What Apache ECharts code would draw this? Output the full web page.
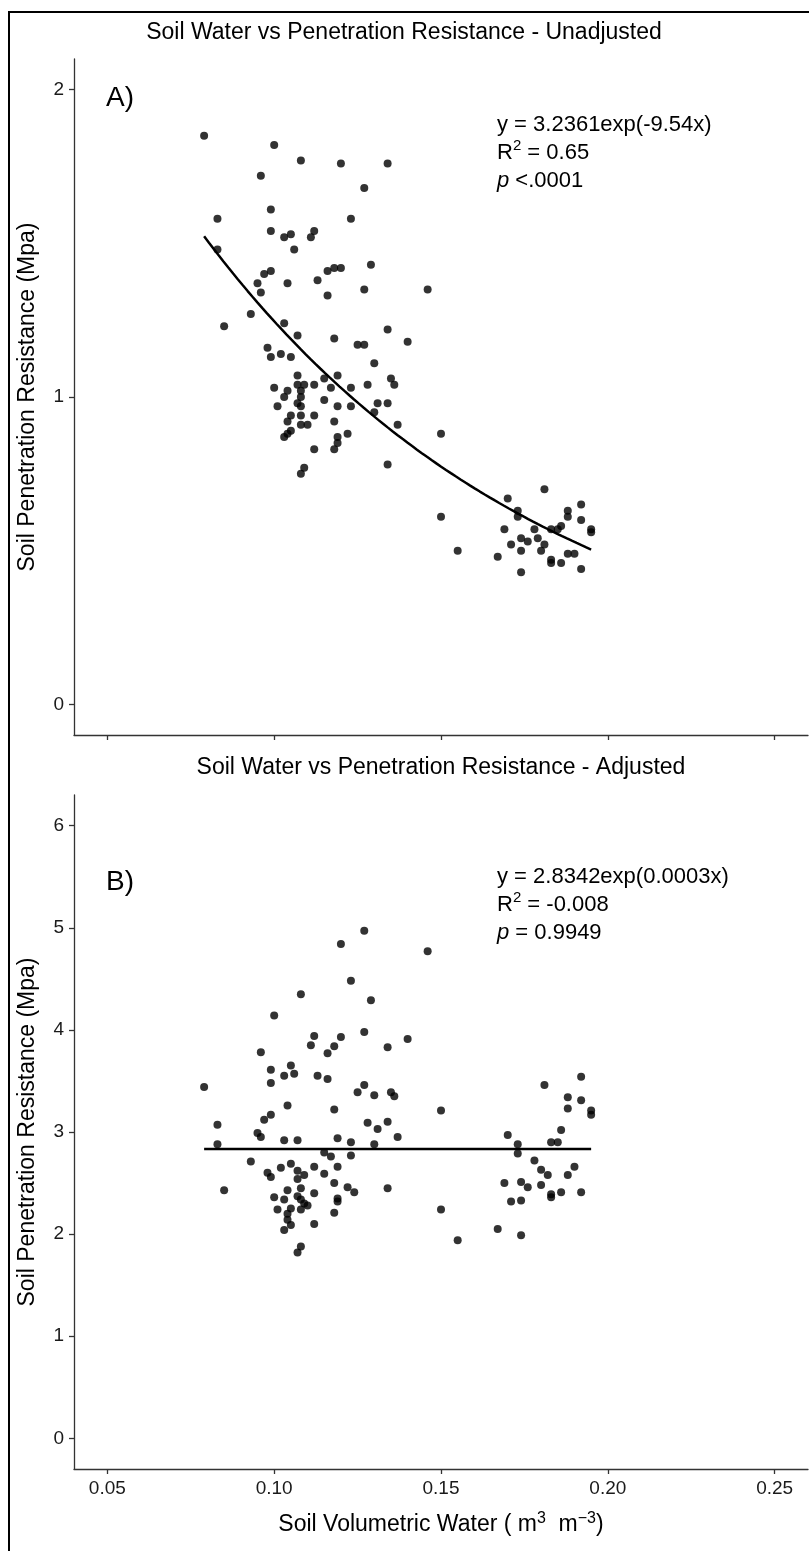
<!DOCTYPE html>
<html>
<head>
<meta charset="utf-8">
<script src="https://cdn.jsdelivr.net/npm/echarts@6.0.0/dist/echarts.min.js"></script>
<style>
  html, body { margin: 0; padding: 0; background: #fff; }
  #chart { width: 809px; height: 1551px; }
</style>
</head>
<body>
<div id="chart"></div>
<script>
// Soil volumetric water (m3 m-3) vs penetration resistance (MPa)
const unadjusted = [
  [0.079,1.85],[0.100,1.82],[0.108,1.77],[0.120,1.76],[0.134,1.76],[0.096,1.72],[0.127,1.68],
  [0.099,1.61],[0.083,1.58],[0.123,1.58],[0.099,1.54],[0.103,1.52],[0.105,1.53],[0.111,1.52],
  [0.112,1.54],[0.106,1.48],[0.083,1.48],[0.129,1.43],[0.116,1.41],[0.118,1.42],[0.120,1.42],
  [0.097,1.40],[0.099,1.41],[0.095,1.37],[0.104,1.37],[0.113,1.38],[0.096,1.34],[0.116,1.33],
  [0.127,1.35],[0.146,1.35],[0.093,1.27],[0.085,1.23],[0.103,1.24],[0.107,1.20],[0.134,1.22],
  [0.118,1.19],[0.140,1.18],[0.125,1.17],[0.127,1.17],[0.098,1.16],[0.099,1.13],[0.102,1.14],
  [0.105,1.13],[0.130,1.11],[0.107,1.07],[0.115,1.06],[0.119,1.07],[0.100,1.03],[0.107,1.04],
  [0.109,1.04],[0.112,1.04],[0.117,1.03],[0.123,1.03],[0.128,1.04],[0.135,1.06],[0.136,1.04],
  [0.104,1.02],[0.108,1.02],[0.103,1.00],[0.108,1.00],[0.101,0.97],[0.107,0.98],[0.115,0.99],
  [0.119,0.97],[0.123,0.97],[0.131,0.98],[0.134,0.98],[0.130,0.95],[0.108,0.97],[0.105,0.94],
  [0.108,0.94],[0.112,0.94],[0.104,0.92],[0.108,0.91],[0.110,0.91],[0.118,0.92],[0.137,0.91],
  [0.105,0.89],[0.104,0.88],[0.103,0.87],[0.119,0.87],[0.122,0.88],[0.150,0.88],
  [0.108,0.75],[0.109,0.77],[0.112,0.83],[0.118,0.83],[0.119,0.85],[0.134,0.78],
  [0.150,0.61],[0.155,0.50],[0.170,0.67],[0.173,0.63],[0.173,0.61],[0.169,0.57],[0.181,0.70],
  [0.178,0.57],[0.183,0.57],[0.185,0.57],[0.186,0.58],[0.188,0.63],[0.188,0.61],[0.192,0.65],
  [0.192,0.60],[0.195,0.57],[0.195,0.56],[0.171,0.52],[0.174,0.54],[0.176,0.53],[0.174,0.50],
  [0.167,0.48],[0.179,0.54],[0.181,0.52],[0.180,0.50],[0.183,0.47],[0.183,0.46],[0.186,0.46],
  [0.188,0.49],[0.190,0.49],[0.192,0.44],[0.174,0.43]
];

const adjusted = [
  [0.127,4.97],[0.120,4.84],[0.146,4.77],[0.123,4.48],[0.108,4.35],[0.129,4.29],[0.100,4.14],
  [0.112,3.94],[0.111,3.85],[0.120,3.93],[0.118,3.84],[0.116,3.77],[0.127,3.98],[0.134,3.83],
  [0.140,3.91],[0.096,3.78],[0.099,3.61],[0.105,3.65],[0.103,3.55],[0.106,3.57],[0.099,3.48],
  [0.113,3.55],[0.116,3.52],[0.079,3.44],[0.127,3.46],[0.125,3.39],[0.130,3.36],[0.135,3.39],
  [0.136,3.35],[0.104,3.26],[0.118,3.22],[0.150,3.21],[0.099,3.17],[0.097,3.12],[0.083,3.07],
  [0.128,3.09],[0.134,3.10],[0.131,3.03],[0.095,2.99],[0.096,2.95],[0.137,2.95],[0.083,2.88],
  [0.103,2.92],[0.107,2.92],[0.119,2.94],[0.123,2.90],[0.130,2.88],[0.115,2.80],[0.117,2.76],
  [0.123,2.77],[0.093,2.71],[0.102,2.65],[0.105,2.69],[0.112,2.66],[0.119,2.66],[0.098,2.60],
  [0.099,2.56],[0.107,2.62],[0.109,2.58],[0.107,2.54],[0.115,2.59],[0.118,2.50],[0.122,2.46],
  [0.124,2.41],[0.134,2.45],[0.085,2.43],[0.108,2.45],[0.104,2.43],[0.100,2.36],[0.103,2.34],
  [0.107,2.37],[0.108,2.34],[0.112,2.40],[0.119,2.35],[0.119,2.32],[0.101,2.24],[0.105,2.25],
  [0.109,2.30],[0.110,2.28],[0.108,2.24],[0.104,2.20],[0.118,2.21],[0.150,2.24],[0.104,2.14],
  [0.105,2.09],[0.103,2.04],[0.112,2.10],[0.167,2.05],[0.155,1.94],[0.107,1.82],[0.108,1.88],
  [0.181,3.46],[0.192,3.54],[0.188,3.34],[0.192,3.31],[0.188,3.23],[0.195,3.21],[0.195,3.17],
  [0.186,3.02],[0.170,2.97],[0.173,2.88],[0.183,2.90],[0.185,2.90],[0.173,2.79],[0.178,2.72],
  [0.180,2.63],[0.182,2.58],[0.190,2.66],[0.188,2.58],[0.169,2.50],[0.174,2.51],[0.176,2.46],
  [0.180,2.48],[0.183,2.39],[0.183,2.36],[0.186,2.41],[0.192,2.41],[0.171,2.32],[0.174,2.33],
  [0.174,1.99]
];

// Exponential fits y = a * exp(b * x), drawn over the observed water range
const fitUnadjusted = { a: 3.2361, b: -9.54, from: 0.079, to: 0.195 };
const fitAdjusted = { a: 2.8342, b: 0.0003, from: 0.079, to: 0.195 };

const xTicks = [0.05, 0.10, 0.15, 0.20, 0.25];
const yTicksA = [0, 1, 2];
const yTicksB = [0, 1, 2, 3, 4, 5, 6];

const titleA = 'Soil Water vs Penetration Resistance - Unadjusted';
const titleB = 'Soil Water vs Penetration Resistance - Adjusted';
const yTitle = 'Soil Penetration Resistance (Mpa)';

function fitCurve(fit, n) {
  const pts = [];
  for (let i = 0; i <= n; i++) {
    const x = fit.from + (fit.to - fit.from) * i / n;
    pts.push([x, fit.a * Math.exp(fit.b * x)]);
  }
  return pts;
}

const FONT = '"Liberation Sans", Arial, sans-serif';
const axisGrey = '#333333';
const labelColor = '#1a1a1a';

function xAxisCfg(gridIndex, showLabels) {
  return {
    type: 'value', gridIndex, min: 0.04, max: 0.26,
    axisLine: { show: true, onZero: false, lineStyle: { color: axisGrey, width: 1.3 } },
    axisTick: { show: true, customValues: xTicks, length: 5, lineStyle: { color: axisGrey, width: 1.3 } },
    axisLabel: {
      show: showLabels, customValues: xTicks, margin: 10,
      fontFamily: FONT, fontSize: 19, color: labelColor,
      formatter: v => v.toFixed(2)
    },
    splitLine: { show: false }
  };
}

function yAxisCfg(gridIndex, lo, hi, ticks) {
  return {
    type: 'value', gridIndex, min: lo, max: hi,
    axisLine: { show: true, onZero: false, lineStyle: { color: axisGrey, width: 1.3 } },
    axisTick: { show: true, customValues: ticks, length: 5, lineStyle: { color: axisGrey, width: 1.3 } },
    axisLabel: {
      customValues: ticks, margin: 10,
      fontFamily: FONT, fontSize: 19, color: labelColor,
      formatter: v => String(v)
    },
    splitLine: { show: false }
  };
}

function txt(x, y, text, size, extra) {
  return {
    type: 'text', x, y,
    style: Object.assign({
      text, font: size + 'px ' + FONT, fill: '#000',
      align: 'left', verticalAlign: 'middle'
    }, extra || {})
  };
}

const richEq = (size) => ({
  n: { fontFamily: FONT, fontSize: size, color: '#000', lineHeight: 29 },
  sup: { fontFamily: FONT, fontSize: Math.round(size * 0.7), color: '#000', verticalAlign: 'top', lineHeight: 29 },
  it: { fontFamily: FONT, fontSize: size, fontStyle: 'italic', color: '#000', lineHeight: 29 }
});

function eqBlock(x, y, line1, r2, pText) {
  const s = 22;
  return [
    { type: 'text', x, y, style: { text: line1, font: s + 'px ' + FONT, fill: '#000', verticalAlign: 'middle' } },
    { type: 'text', x, y: y + 28, style: { text: '{n|R}{sup|2}{n| = ' + r2 + '}', rich: richEq(s), verticalAlign: 'middle' } },
    { type: 'text', x, y: y + 56, style: { text: '{it|p}{n|' + pText + '}', rich: richEq(s), verticalAlign: 'middle' } }
  ];
}

const chart = echarts.init(document.getElementById('chart'), null, { renderer: 'canvas' });

chart.setOption({
  backgroundColor: '#ffffff',
  animation: false,
  grid: [
    { left: 74, top: 59, width: 734, height: 676 },
    { left: 74, top: 795, width: 734, height: 674 }
  ],
  xAxis: [xAxisCfg(0, false), xAxisCfg(1, true)],
  yAxis: [yAxisCfg(0, -0.1, 2.1, yTicksA), yAxisCfg(1, -0.3, 6.3, yTicksB)],
  series: [
    { type: 'scatter', xAxisIndex: 0, yAxisIndex: 0, data: unadjusted, symbolSize: 8,
      itemStyle: { color: '#000' }, silent: true },
    { type: 'line', xAxisIndex: 0, yAxisIndex: 0, data: fitCurve(fitUnadjusted, 80), showSymbol: false,
      lineStyle: { color: '#000', width: 2.5 }, silent: true },
    { type: 'scatter', xAxisIndex: 1, yAxisIndex: 1, data: adjusted, symbolSize: 8,
      itemStyle: { color: '#000' }, silent: true },
    { type: 'line', xAxisIndex: 1, yAxisIndex: 1, data: fitCurve(fitAdjusted, 20), showSymbol: false,
      lineStyle: { color: '#000', width: 2.5 }, silent: true }
  ],
  graphic: [
    // figure frame
    { type: 'line', shape: { x1: 8, y1: 12, x2: 809, y2: 12 }, style: { stroke: '#000', lineWidth: 2 } },
    { type: 'line', shape: { x1: 9, y1: 12, x2: 9, y2: 1551 }, style: { stroke: '#000', lineWidth: 2 } },
    // panel titles
    txt(404, 33, titleA, 23, { align: 'center' }),
    txt(441, 768, titleB, 23, { align: 'center' }),
    // panel tags
    txt(106, 98, 'A)', 28),
    txt(106, 882, 'B)', 28),
    // y-axis titles
    Object.assign(txt(28, 397, yTitle, 23, { align: 'center' }), { rotation: Math.PI / 2 }),
    Object.assign(txt(28, 1132, yTitle, 23, { align: 'center' }), { rotation: Math.PI / 2 }),
    // x-axis title
    { type: 'text', x: 441, y: 1525, style: {
        text: '{n|Soil Volumetric Water ( m}{sup|3}{n|  m}{sup|\u22123}{n|)}',
        rich: richEq(23), align: 'center', verticalAlign: 'middle' } },
    ...eqBlock(497, 125, 'y = 3.2361exp(-9.54x)', '0.65', ' <.0001'),
    ...eqBlock(497, 877, 'y = 2.8342exp(0.0003x)', '-0.008', ' = 0.9949')
  ]
});
</script>
</body>
</html>
